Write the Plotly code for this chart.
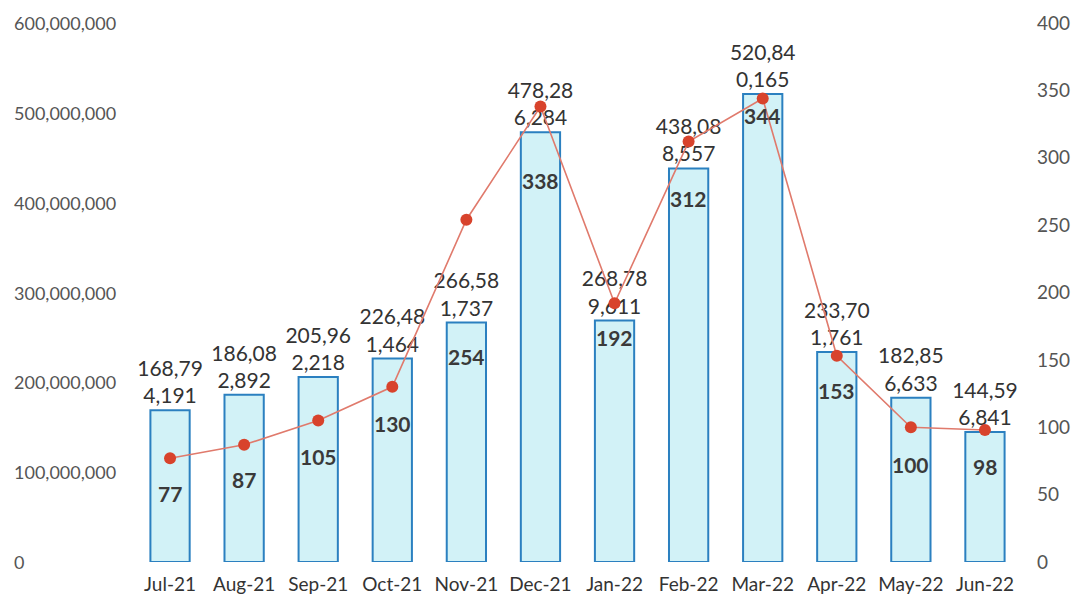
import plotly.graph_objects as go

months = ["Jul-21", "Aug-21", "Sep-21", "Oct-21", "Nov-21", "Dec-21",
          "Jan-22", "Feb-22", "Mar-22", "Apr-22", "May-22", "Jun-22"]
amounts = [168794191, 186082892, 205962218, 226481464, 266581737, 478286284,
           268789611, 438088557, 520840165, 233701761, 182856633, 144596841]
counts = [77, 87, 105, 130, 254, 338, 192, 312, 344, 153, 100, 98]

left_ticks = [0, 100000000, 200000000, 300000000, 400000000, 500000000, 600000000]
right_ticks = [0, 50, 100, 150, 200, 250, 300, 350, 400]

# pixel offsets of the count labels below their markers (style only)
label_shift = [35, 35, 36, 37, 137, 74, 34, 57, 17, 35, 37, 37]

bar_text = []
for v in amounts:
    s = f"{v:,}"          # e.g. 168,794,191
    bar_text.append(s[:6] + "<br>" + s[6:])  # "168,79" / "4,191"

FONT = "Lato, Liberation Sans, sans-serif"

fig = go.Figure()
fig.add_trace(go.Bar(
    x=months, y=amounts, text=bar_text, textposition="outside",
    constraintext="none",
    textfont=dict(size=21, color="#333333", family=FONT),
    marker=dict(color="rgba(205,241,246,0.9)",
                line=dict(color="#2b80c0", width=2)),
    width=0.53, cliponaxis=False, yaxis="y", name="Amount",
))
fig.add_trace(go.Scatter(
    x=months, y=counts, mode="lines+markers",
    line=dict(color="#e07a6c", width=1.6),
    marker=dict(color="#d8432c", size=12),
    yaxis="y2", cliponaxis=False, name="Count",
))

for m, c, sh in zip(months, counts, label_shift):
    fig.add_annotation(
        x=m, y=c, xref="x", yref="y2", text=f"<b>{c}</b>",
        showarrow=False, yshift=-sh,
        font=dict(size=21, color="#3a3a3a", family=FONT),
    )

# left axis labels are left-aligned in the reference
for t in left_ticks:
    fig.add_annotation(
        x=-0.136, y=t, xref="paper", yref="y", text=f"{t:,}",
        showarrow=False, xanchor="left",
        font=dict(size=18, color="#555555", family=FONT),
    )

fig.update_layout(
    width=1083, height=603,
    margin=dict(l=125, r=69, t=15, b=49, autoexpand=False),
    paper_bgcolor="white", plot_bgcolor="white",
    showlegend=False,
    font=dict(family=FONT, size=18, color="#444444"),
    xaxis=dict(range=[-0.5, 11.5], showgrid=False, showline=False, ticks="",
               ticklabelstandoff=9,
               tickfont=dict(size=19, color="#333333")),
    yaxis=dict(range=[0, 600000000], tickvals=left_ticks, showticklabels=False,
               showgrid=False, zeroline=False, ticks=""),
    yaxis2=dict(range=[0, 400], tickvals=right_ticks, overlaying="y", side="right",
                showgrid=False, zeroline=False, ticks="", ticklabelstandoff=14,
                tickfont=dict(size=19, color="#555555")),
)
fig.update_xaxes(automargin=False)
fig.update_yaxes(automargin=False)
fig.layout.yaxis2.automargin = False

fig.write_html("out.html")
